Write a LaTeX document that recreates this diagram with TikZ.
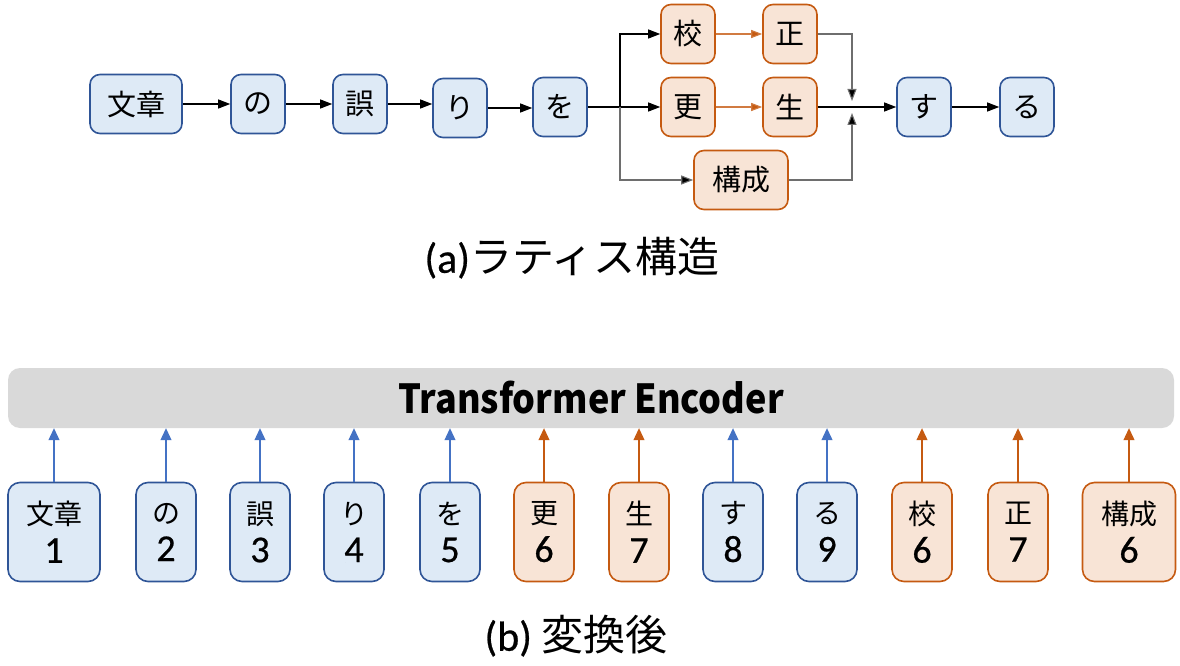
\documentclass[tikz,border=0pt]{standalone}
\usepackage{fontspec}
\usepackage{graphicx}
\setmainfont{Carlito}
\newfontfamily\jp{Noto Sans CJK JP}
\newfontfamily\dgfont{Carlito}[FakeBold=0.6]
\usetikzlibrary{arrows.meta}
\definecolor{bfill}{HTML}{DEEAF6}
\definecolor{bline}{HTML}{2F5597}
\definecolor{ofill}{HTML}{F8E4D6}
\definecolor{oline}{HTML}{C55A11}
\definecolor{barrow}{HTML}{4472C4}
\definecolor{glines}{HTML}{6E6E6E}
\definecolor{encfill}{HTML}{D9D9D9}
\tikzset{
  tbox/.style={line width=1.6pt, rounded corners=10pt, minimum width=54pt, minimum height=59pt, inner sep=0pt, font=\jp\fontsize{29}{29}\selectfont},
  bb/.style={tbox, draw=bline, fill=bfill},
  ob/.style={tbox, draw=oline, fill=ofill},
  lbox/.style={line width=1.6pt, rounded corners=12pt, minimum width=60pt, minimum height=99pt, inner sep=0pt, align=center, font=\jp\fontsize{28}{38}\selectfont},
  lb/.style={lbox, draw=bline, fill=bfill},
  lo/.style={lbox, draw=oline, fill=ofill},
  ta/.style={line width=1.1pt, -{Triangle[length=12pt,width=9pt,fill=black]}},
  oa/.style={ta, draw=oline!80, -{Triangle[length=11pt,width=8pt,fill=oline]}},
  ba/.style={line width=1.1pt, draw=barrow, -{Triangle[length=12pt,width=11pt,fill=barrow]}},
  bo/.style={line width=1.1pt, draw=oline, -{Triangle[length=12pt,width=11pt,fill=oline]}},
  enc/.style={fill=encfill, rounded corners=12pt, minimum width=1166pt, minimum height=60pt, inner sep=0pt, font=\jp\bfseries\fontsize{40}{40}\selectfont},
  captxt/.style={inner sep=0pt, font=\fontsize{42}{42}\selectfont}
}
\newcommand{\dg}[1]{{\dgfont\fontsize{38}{38}\selectfont #1}}
\begin{document}
\begin{tikzpicture}[x=1pt,y=-1pt]
\useasboundingbox (0,0) rectangle (1180,666);
% ---------- (a) lattice ----------
\node[bb, minimum width=92pt] (a1) at (136,104) {文章};
\node[bb] (a2) at (258,104) {の};
\node[bb] (a3) at (360,104) {誤};
\node[bb] (a4) at (460,108) {り};
\node[bb] (a5) at (560,107) {を};
\node[ob] (k) at (688,34) {校};
\node[ob] (s) at (790,34) {正};
\node[ob] (h) at (688,107) {更};
\node[ob] (g) at (790,107) {生};
\node[ob, minimum width=94pt] (kc) at (741,180) {構成};
\node[bb] (su) at (924,107) {す};
\node[bb] (ru) at (1027,107) {る};
\draw[ta] (a1.east) -- (a1.east -| a2.west);
\draw[ta] (a2.east) -- (a2.east -| a3.west);
\draw[ta] (a3.east) -- (a3.east -| a4.west);
\draw[ta] (a4.east) -- (a4.east -| a5.west);
\draw[ta] (a5.east) -- (a5.east -| h.west);
\coordinate (br) at (620,107);
\draw[ta] (br) |- (k.west);
\draw[ta, draw=glines] (br) |- (kc.west);
\draw[oa] (k) -- (s);
\draw[oa] (h) -- (g);
\draw[ta] (g.east) -- (g.east -| su.west);
\draw[ta] (su.east) -- (su.east -| ru.west);
\coordinate (jt) at (852,101);
\coordinate (jb) at (852,113);
\draw[ta, draw=glines] (s.east) -| (jt);
\draw[ta, draw=glines] (kc.east) -| (jb);
\node[captxt] (capa) at (572,258) {{\dgfont (a)}\jp ラティス構造};
% ---------- (b) ----------
\node[enc] (E) at (591,398) {\scalebox{0.9}[1]{Transformer Encoder}};
\node[lb, minimum width=92pt] (b1) at (54,532) {文章\\\dg{1}};
\node[lb] (b2) at (166,532) {の\\\dg{2}};
\node[lb] (b3) at (260,532) {誤\\\dg{3}};
\node[lb] (b4) at (354,532) {り\\\dg{4}};
\node[lb] (b5) at (450,532) {を\\\dg{5}};
\node[lo] (b6) at (544,532) {更\\\dg{6}};
\node[lo] (b7) at (639,532) {生\\\dg{7}};
\node[lb] (b8) at (733,532) {す\\\dg{8}};
\node[lb] (b9) at (827,532) {る\\\dg{9}};
\node[lo] (b10) at (922,532) {校\\\dg{6}};
\node[lo] (b11) at (1018,532) {正\\\dg{7}};
\node[lo, minimum width=93pt] (b12) at (1129,532) {構成\\\dg{6}};
\foreach \n in {b1,b2,b3,b4,b5,b8,b9}{\draw[ba] (\n.north) -- (\n.north |- E.south);}
\foreach \n in {b6,b7,b10,b11,b12}{\draw[bo] (\n.north) -- (\n.north |- E.south);}
\node[captxt] (capb) at (576,636) {{\dgfont (b)} \jp 変換後};
\end{tikzpicture}
\end{document}
